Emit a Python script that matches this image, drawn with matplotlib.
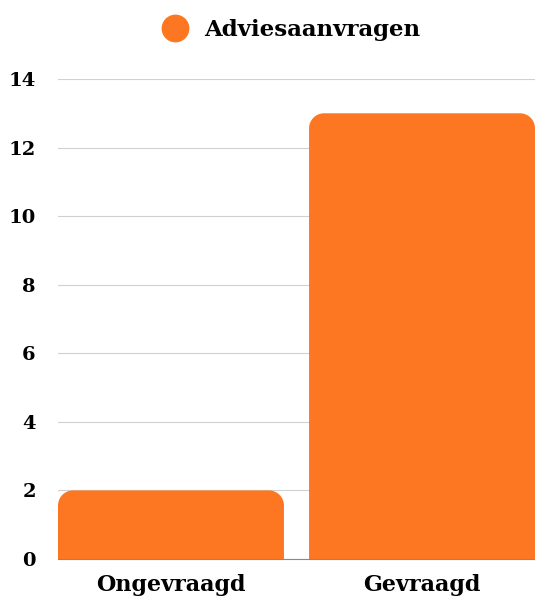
import numpy as np
import matplotlib.pyplot as plt
from matplotlib.path import Path
from matplotlib.patches import PathPatch
from matplotlib.lines import Line2D

categories = ["Ongevraagd", "Gevraagd"]
values = [2, 13]
series_name = "Adviesaanvragen"
yticks = [0, 2, 4, 6, 8, 10, 12, 14]

orange = "#FD7722"
plt.rcParams["font.family"] = ["DejaVu Serif"]
plt.rcParams["font.weight"] = "bold"

fig = plt.figure(figsize=(5.35, 5.99), dpi=100)
ax = fig.add_axes([58 / 535, 1 - 559 / 599, 1 - 58 / 535, (559 - 79) / 599])
ax.set_xlim(-0.45, 1.45)
ax.set_ylim(0, 14)

# pixel -> data scale for rounded corners
w_px = 535 - 58
h_px = 559 - 79
r_px = 15
rx = r_px * 1.9 / w_px
ry = r_px * 14 / h_px
k = 0.5523

width = 0.9
for i, v in enumerate(values):
    x0, x1 = i - width / 2, i + width / 2
    verts = [
        (x0, 0), (x0, v - ry),
        (x0, v - ry + k * ry), (x0 + rx - k * rx, v), (x0 + rx, v),
        (x1 - rx, v),
        (x1 - rx + k * rx, v), (x1, v - ry + k * ry), (x1, v - ry),
        (x1, 0), (x0, 0),
    ]
    codes = [Path.MOVETO, Path.LINETO,
             Path.CURVE4, Path.CURVE4, Path.CURVE4,
             Path.LINETO,
             Path.CURVE4, Path.CURVE4, Path.CURVE4,
             Path.LINETO, Path.CLOSEPOLY]
    ax.add_patch(PathPatch(Path(verts, codes), facecolor=orange, edgecolor="none", zorder=3))

ax.set_yticks(yticks)
ax.set_xticks(range(len(categories)))
ax.set_xticklabels(categories, fontsize=16, fontweight="bold")
ax.tick_params(axis="y", labelsize=14, length=0, pad=16)
ax.tick_params(axis="x", length=0, pad=11)
for lab in ax.get_yticklabels():
    lab.set_fontweight("bold")
ax.grid(axis="y", color="#d0d0d0", linewidth=0.8, zorder=0)
for s in ["top", "right", "left"]:
    ax.spines[s].set_visible(False)
ax.spines["bottom"].set_color("#888888")
ax.spines["bottom"].set_linewidth(0.8)

handle = Line2D([], [], marker="o", linestyle="none", markersize=19,
                markerfacecolor=orange, markeredgecolor=orange)
fig.legend([handle], [series_name], loc="center", bbox_to_anchor=(0.535, 1 - 30 / 599),
           frameon=False, prop={"size": 16.5, "weight": "bold"}, handletextpad=0.25)

fig.savefig("out.png", dpi=100)
